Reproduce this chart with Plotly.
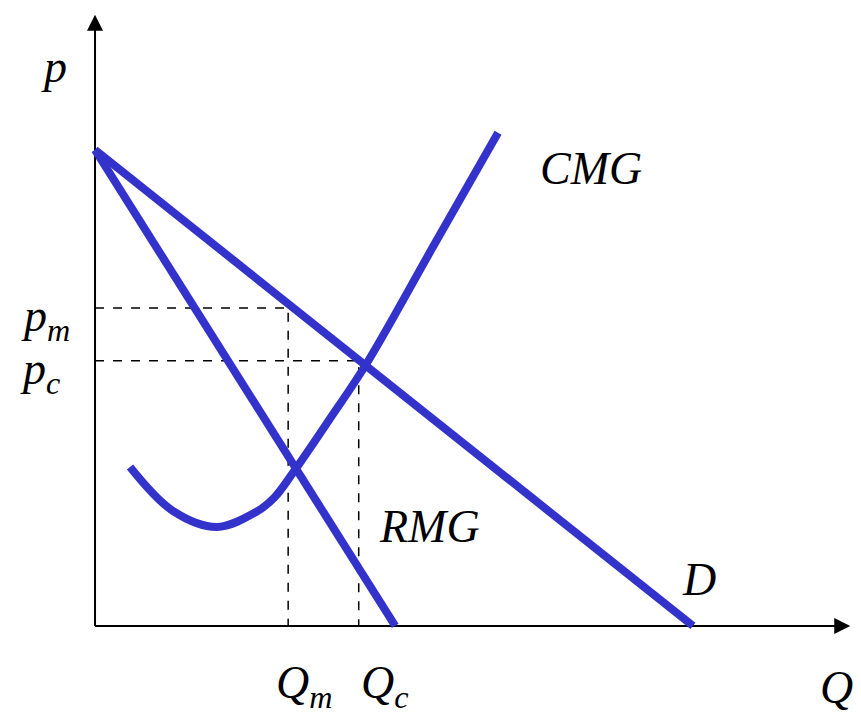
import plotly.graph_objects as go

# Demand and marginal revenue (straight lines): quantity / price endpoints
d_q = [0, 10]
d_p = [10, 0]
rmg_q = [0, 5.02]
rmg_p = [10, 0]

# Marginal cost curve
cmg_q = [0.585, 1.3, 2.04, 2.7, 3.0, 3.3, 3.9, 4.55, 5.65, 6.74]
cmg_p = [3.34, 2.42, 2.08, 2.4, 2.7, 3.2, 4.3, 5.53, 7.96, 10.36]

# Monopoly and competitive equilibria
q_m, p_m = 3.23, 6.68
q_c, p_c = 4.41, 5.57

blue = "#3333CC"
serif = "Liberation Serif, Times New Roman, serif"

fig = go.Figure()

# Axes
fig.add_trace(go.Scatter(x=[0, 12.5], y=[0, 0], mode="lines",
                         line=dict(color="black", width=2), showlegend=False))
fig.add_trace(go.Scatter(x=[0, 0], y=[0, 12.7], mode="lines",
                         line=dict(color="black", width=2), showlegend=False))

# Dashed guides
fig.add_trace(go.Scatter(x=[0, q_m, q_m], y=[p_m, p_m, 0], mode="lines",
                         line=dict(color="black", width=1.5, dash="dash"),
                         showlegend=False))
fig.add_trace(go.Scatter(x=[0, q_c, q_c], y=[p_c, p_c, 0], mode="lines",
                         line=dict(color="black", width=1.5, dash="dash"),
                         showlegend=False))

# Curves
fig.add_trace(go.Scatter(x=d_q, y=d_p, mode="lines",
                         line=dict(color=blue, width=8), showlegend=False))
fig.add_trace(go.Scatter(x=rmg_q, y=rmg_p, mode="lines",
                         line=dict(color=blue, width=8), showlegend=False))
fig.add_trace(go.Scatter(x=cmg_q, y=cmg_p, mode="lines",
                         line=dict(color=blue, width=8, shape="spline",
                                   smoothing=1.0),
                         showlegend=False))

# Arrow heads on the axes
for tip, tail in [((12.63, 0), (12.3, 0)), ((0, 12.84), (0, 12.5))]:
    fig.add_annotation(x=tip[0], y=tip[1], ax=tail[0], ay=tail[1],
                       xref="x", yref="y", axref="x", ayref="y",
                       text="", showarrow=True, arrowhead=2, arrowsize=1.6,
                       arrowwidth=2, arrowcolor="black")

labels = [
    (-0.68, 11.75, "<i>p</i>"),
    (-0.83, 6.45, "<i>p<sub>m</sub></i>"),
    (-0.92, 5.33, "<i>p<sub>c</sub></i>"),
    (8.3, 9.6, "<i>CMG</i>"),
    (5.6, 2.1, "<i>RMG</i>"),
    (10.1, 0.97, "<i>D</i>"),
    (3.5, -1.26, "<i>Q<sub>m</sub></i>"),
    (4.85, -1.26, "<i>Q<sub>c</sub></i>"),
    (12.4, -1.3, "<i>Q</i>"),
]
for x, y, t in labels:
    fig.add_annotation(x=x, y=y, text=t, showarrow=False,
                       font=dict(family=serif, size=46, color="black"))

fig.update_xaxes(range=[-1.589, 12.81], visible=False)
fig.update_yaxes(range=[-1.807, 13.15], visible=False)
fig.update_layout(width=861, height=712, margin=dict(l=0, r=0, t=0, b=0),
                  plot_bgcolor="white", paper_bgcolor="white")

# drop the page's default body margin so the figure fills the window
fig.write_html("out.html", config={"displayModeBar": False},
               post_script="document.body.style.margin='0';")
